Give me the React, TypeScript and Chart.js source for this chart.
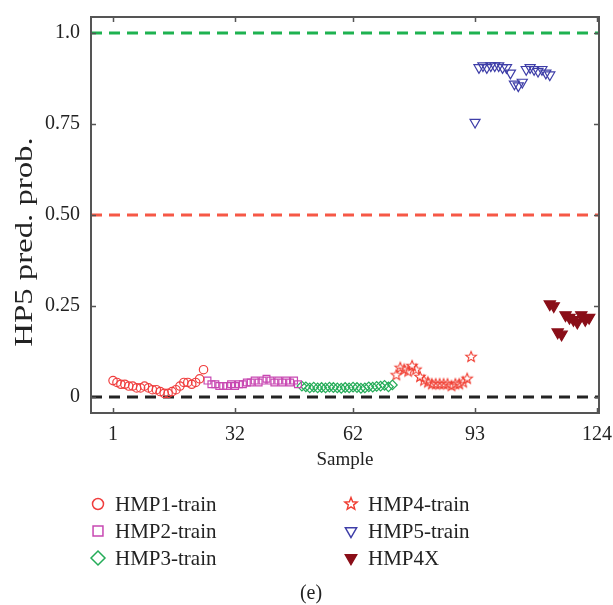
import React, { useEffect, useRef } from 'react';
import { Chart, registerables } from 'chart.js';
import { drawPoint } from 'chart.js/helpers';

Chart.register(...registerables);

const FONT = '"Liberation Serif", "DejaVu Serif", serif';

// ---- data ----
const hmp1Start = 1;
const hmp1 = [0.045, 0.04, 0.035, 0.035, 0.03, 0.03, 0.025, 0.025, 0.03, 0.025, 0.02, 0.02, 0.015, 0.01, 0.01, 0.015, 0.02, 0.03, 0.04, 0.04, 0.035, 0.04, 0.05, 0.075];
const hmp2Start = 25;
const hmp2 = [0.045, 0.035, 0.035, 0.03, 0.03, 0.03, 0.035, 0.03, 0.035, 0.035, 0.04, 0.04, 0.045, 0.04, 0.045, 0.05, 0.045, 0.04, 0.045, 0.04, 0.045, 0.04, 0.045, 0.035];
const hmp3Start = 49;
const hmp3 = [0.03, 0.028, 0.025, 0.027, 0.025, 0.026, 0.025, 0.027, 0.026, 0.025, 0.024, 0.026, 0.025, 0.027, 0.026, 0.024, 0.025, 0.028, 0.027, 0.029, 0.03, 0.032, 0.028, 0.033];
const hmp4Start = 73;
const hmp4 = [0.06, 0.08, 0.075, 0.07, 0.085, 0.075, 0.055, 0.045, 0.04, 0.035, 0.035, 0.035, 0.035, 0.035, 0.03, 0.035, 0.035, 0.04, 0.05, 0.11];
const hmp5Start = 93;
const hmp5 = [0.755, 0.905, 0.91, 0.905, 0.91, 0.91, 0.91, 0.905, 0.905, 0.89, 0.86, 0.855, 0.865, 0.9, 0.905, 0.9, 0.895, 0.9, 0.89, 0.885];
const hmp4xStart = 112;
const hmp4x = [0.255, 0.25, 0.178, 0.172, 0.225, 0.218, 0.212, 0.205, 0.225, 0.212, 0.218];

const seriesNames = ['HMP1-train', 'HMP2-train', 'HMP3-train', 'HMP4-train', 'HMP5-train', 'HMP4X'];
const refLevels = [1.0, 0.5, 0];
const refColors = ['rgb(30,178,80)', 'rgb(246,88,70)', 'rgb(35,35,35)'];

const xTicks = [1, 32, 62, 93, 124];
const yTicks = [0, 0.25, 0.5, 0.75, 1.0];
const yTickLabels = ['0', '0.25', '0.50', '0.75', '1.0'];
const X_MIN = -4.6;
const X_MAX = 124.5;
const Y_MIN = -0.044;
const Y_MAX = 1.044;

const toPoints = (start: number, vals: number[]) => vals.map((v, i) => ({ x: start + i, y: v }));

function makeStar(color: string, outer: number, inner: number, lw: number): HTMLCanvasElement {
  const size = Math.ceil(2 * (outer + lw)) + 2;
  const c = document.createElement('canvas');
  c.width = size;
  c.height = size;
  const ctx = c.getContext('2d')!;
  ctx.translate(size / 2, size / 2);
  ctx.beginPath();
  for (let i = 0; i < 10; i++) {
    const r = i % 2 === 0 ? outer : inner;
    const a = -Math.PI / 2 + (i * Math.PI) / 5;
    const px = r * Math.cos(a);
    const py = r * Math.sin(a);
    if (i === 0) ctx.moveTo(px, py);
    else ctx.lineTo(px, py);
  }
  ctx.closePath();
  ctx.strokeStyle = color;
  ctx.lineWidth = lw;
  ctx.stroke();
  return c;
}

const C1 = 'rgb(240,62,62)';
const C2 = 'rgb(200,72,178)';
const C3 = 'rgb(36,172,88)';
const C4 = 'rgb(240,62,50)';
const C5 = 'rgb(62,62,168)';
const C6 = 'rgb(138,14,24)';

export default function App() {
  const ref = useRef<HTMLCanvasElement | null>(null);

  useEffect(() => {
    const canvas = ref.current;
    if (!canvas) return;
    const starPlot = makeStar(C4, 5.5, 2.4, 1.1);
    const starLegend = makeStar(C4, 6.5, 2.8, 1.4);

    const styles = [
      { pointStyle: 'circle' as any, color: C1, fill: 'rgba(0,0,0,0)', radius: 4.2, rotation: 0, lr: 5.5 },
      { pointStyle: 'rect' as any, color: C2, fill: 'rgba(0,0,0,0)', radius: 4.8, rotation: 0, lr: 7 },
      { pointStyle: 'rectRot' as any, color: C3, fill: 'rgba(0,0,0,0)', radius: 4.8, rotation: 0, lr: 7 },
      { pointStyle: starPlot as any, color: C4, fill: 'rgba(0,0,0,0)', radius: 5, rotation: 0, lr: 6 },
      { pointStyle: 'triangle' as any, color: C5, fill: 'rgba(0,0,0,0)', radius: 5.8, rotation: 180, lr: 6.5 },
      { pointStyle: 'triangle' as any, color: C6, fill: C6, radius: 6.5, rotation: 180, lr: 6.5 },
    ];
    const seriesData = [
      toPoints(hmp1Start, hmp1),
      toPoints(hmp2Start, hmp2),
      toPoints(hmp3Start, hmp3),
      toPoints(hmp4Start, hmp4),
      toPoints(hmp5Start, hmp5),
      toPoints(hmp4xStart, hmp4x),
    ];

    const datasets: any[] = seriesData.map((d, i) => ({
      label: seriesNames[i],
      data: d,
      pointStyle: styles[i].pointStyle,
      pointRadius: styles[i].radius,
      pointRotation: styles[i].rotation,
      pointBorderColor: styles[i].color,
      pointBackgroundColor: styles[i].fill,
      pointBorderWidth: 1.2,
      borderColor: styles[i].color,
      backgroundColor: styles[i].fill,
      showLine: false,
    }));
    refLevels.forEach((lv, i) => {
      datasets.push({
        type: 'line',
        label: 'ref' + i,
        data: [{ x: X_MIN, y: lv }, { x: X_MAX, y: lv }],
        borderColor: refColors[i],
        borderWidth: 3,
        borderDash: [11, 7],
        pointRadius: 0,
        fill: false,
      });
    });

    const legendCols = [98, 351];
    const legendRows = [504, 531, 558];
    const legendStyles = styles.map((s, i) => (i === 3 ? { ...s, pointStyle: starLegend } : s));

    const deco = {
      id: 'deco',
      afterDraw(chart: any) {
        const ctx = chart.ctx as CanvasRenderingContext2D;
        const { left, right, top, bottom } = chart.chartArea;
        const xs = chart.scales.x;
        const ys = chart.scales.y;
        ctx.save();
        // frame
        ctx.strokeStyle = 'rgb(85,85,85)';
        ctx.lineWidth = 2;
        ctx.strokeRect(left, top, right - left, bottom - top);
        // inward ticks
        ctx.lineWidth = 1.5;
        const tl = 5;
        xTicks.forEach((v) => {
          const px = Math.round(xs.getPixelForValue(v)) + 0.5;
          ctx.beginPath();
          ctx.moveTo(px, bottom);
          ctx.lineTo(px, bottom - tl);
          ctx.moveTo(px, top);
          ctx.lineTo(px, top + tl);
          ctx.stroke();
        });
        yTicks.forEach((v) => {
          const py = Math.round(ys.getPixelForValue(v)) + 0.5;
          ctx.beginPath();
          ctx.moveTo(left, py);
          ctx.lineTo(left + tl, py);
          ctx.moveTo(right, py);
          ctx.lineTo(right - tl, py);
          ctx.stroke();
        });
        // y title
        ctx.fillStyle = '#222';
        ctx.font = `26px ${FONT}`;
        ctx.textAlign = 'center';
        ctx.textBaseline = 'middle';
        ctx.translate(25, 242);
        ctx.rotate(-Math.PI / 2);
        ctx.scale(1.26, 1);
        ctx.fillText('HP5 pred. prob.', 0, 0);
        ctx.restore();

        // legend
        ctx.save();
        seriesNames.forEach((name, i) => {
          const col = Math.floor(i / 3);
          const row = i % 3;
          const x = legendCols[col];
          const y = legendRows[row];
          const st = legendStyles[i];
          ctx.strokeStyle = st.color;
          ctx.fillStyle = st.fill;
          ctx.lineWidth = 1.5;
          drawPoint(ctx, { pointStyle: st.pointStyle, radius: st.lr, rotation: st.rotation, borderWidth: 1.5 } as any, x, y);
          ctx.fillStyle = '#222';
          ctx.font = `21px ${FONT}`;
          ctx.textAlign = 'left';
          ctx.textBaseline = 'middle';
          ctx.fillText(name, x + 17, y + 1);
        });
        // caption
        ctx.fillStyle = '#222';
        ctx.font = `20px ${FONT}`;
        ctx.textAlign = 'center';
        ctx.textBaseline = 'middle';
        ctx.fillText('(e)', 311, 594);
        ctx.restore();
      },
    };

    const chart = new Chart(canvas, {
      type: 'scatter',
      data: { datasets },
      options: {
        responsive: false,
        animation: false,
        devicePixelRatio: 1,
        layout: { padding: { left: 0, top: 17, right: 14, bottom: 132 } },
        plugins: {
          legend: { display: false },
          tooltip: { enabled: false },
          title: { display: false },
        },
        scales: {
          x: {
            type: 'linear',
            position: 'bottom',
            min: X_MIN,
            max: X_MAX,
            afterBuildTicks: (s: any) => {
              s.ticks = xTicks.map((v) => ({ value: v }));
            },
            afterFit: (s: any) => {
              s.height = 60;
              s.paddingLeft = 0;
              s.paddingRight = 0;
            },
            ticks: {
              autoSkip: false,
              maxRotation: 0,
              padding: 10,
              color: '#222',
              font: { family: FONT, size: 20 },
              callback: (v: any) => String(v),
            },
            grid: { display: false, drawTicks: false },
            border: { display: false },
            title: {
              display: true,
              text: 'Sample',
              color: '#222',
              font: { family: FONT, size: 19 },
              padding: { top: 0, bottom: 2 },
            },
          },
          y: {
            type: 'linear',
            min: Y_MIN,
            max: Y_MAX,
            afterBuildTicks: (s: any) => {
              s.ticks = yTicks.map((v) => ({ value: v }));
            },
            afterFit: (s: any) => {
              s.width = 91;
              s.paddingTop = 0;
              s.paddingBottom = 0;
            },
            ticks: {
              autoSkip: false,
              padding: 11,
              color: '#222',
              font: { family: FONT, size: 20 },
              callback: (v: any) => {
                const idx = yTicks.findIndex((t) => Math.abs(t - Number(v)) < 1e-6);
                return idx >= 0 ? yTickLabels[idx] : '';
              },
            },
            grid: { display: false, drawTicks: false },
            border: { display: false },
          },
        },
      } as any,
      plugins: [deco],
    });

    return () => {
      chart.destroy();
    };
  }, []);

  return (
    <div style={{ position: 'absolute', left: 0, top: 0, width: 613, height: 605, background: '#fff' }}>
      <canvas ref={ref} width={613} height={605} style={{ display: 'block', width: 613, height: 605 }} />
    </div>
  );
}
